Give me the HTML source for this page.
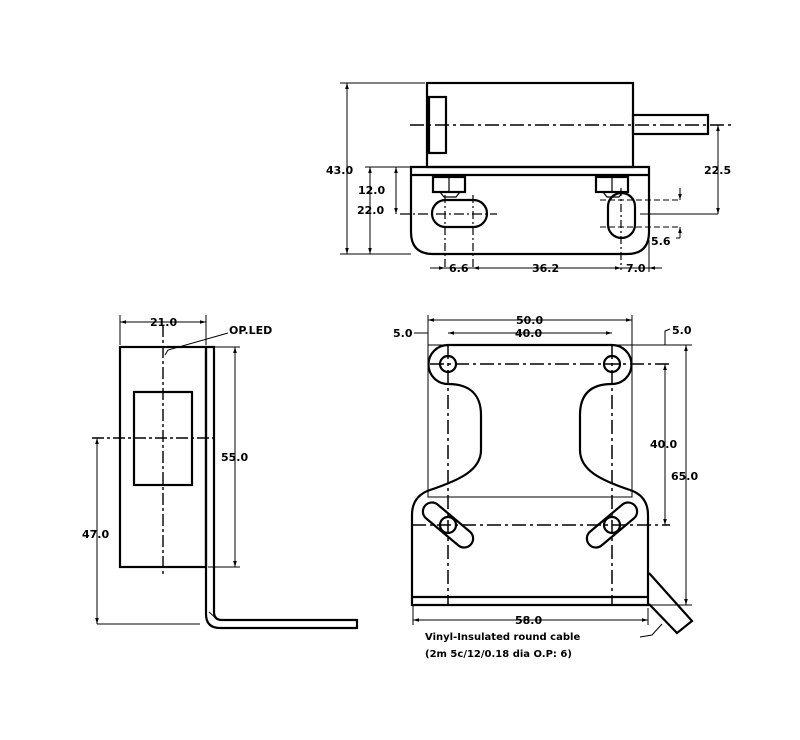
<!DOCTYPE html>
<html><head><meta charset="utf-8"><style>
html,body{margin:0;padding:0;background:#fff;}
svg{display:block;}
text{font-family:"DejaVu Sans","Liberation Sans",sans-serif;font-size:11px;fill:#000;font-weight:bold;}
</style></head><body>
<svg width="800" height="740" viewBox="0 0 800 740" xmlns="http://www.w3.org/2000/svg">
<defs>
<marker id="a" viewBox="0 0 10 10" refX="10" refY="5" markerWidth="6" markerHeight="6" orient="auto-start-reverse"><path d="M0,2 L10,5 L0,8 z" fill="#000"/></marker>
</defs>
<g fill="none" stroke="#000">
<!-- TOP VIEW -->
<g stroke-width="2.2">
<rect x="427" y="83" width="206" height="84"/>
<rect x="429" y="97" width="17" height="56"/>
<rect x="633" y="115" width="75" height="19"/>
<path d="M411,167 H649 V232 Q649,254 627,254 H433 Q411,254 411,232 Z"/>
<line x1="411" y1="175" x2="649" y2="175"/>
<rect x="433" y="177" width="32" height="15"/>
<rect x="596" y="177" width="32" height="15"/>
<rect x="432" y="200" width="55" height="27" rx="13.5"/>
<rect x="608" y="193" width="27" height="45" rx="13.5"/>
</g>
<g stroke-width="1.2">
<line x1="449" y1="177" x2="449" y2="192"/><line x1="612" y1="177" x2="612" y2="192"/>
<path d="M440,192 L444,197 H456 L460,192"/>
<path d="M603,192 L607,197 H619 L623,192"/>
</g>
<line x1="410" y1="125" x2="735" y2="125" stroke-width="1.6" stroke-dasharray="14,4,3,4"/>
<line x1="400" y1="214" x2="497" y2="214" stroke-width="1.3" stroke-dasharray="10,3,2,3"/>
<line x1="640" y1="214" x2="718" y2="214" stroke-width="1"/>
<line x1="621" y1="188" x2="621" y2="270" stroke-width="1.2" stroke-dasharray="8,3,2,3"/>
<line x1="445" y1="195" x2="445" y2="270" stroke-width="1.2" stroke-dasharray="8,3,2,3"/>
<line x1="473" y1="195" x2="473" y2="270" stroke-width="1.2" stroke-dasharray="8,3,2,3"/>
<line x1="649" y1="240" x2="649" y2="272" stroke-width="1"/>
<line x1="600" y1="200" x2="680" y2="200" stroke-width="1" stroke-dasharray="6,3"/>
<line x1="600" y1="227" x2="680" y2="227" stroke-width="1" stroke-dasharray="6,3"/>
<g stroke-width="1">
<line x1="340" y1="83" x2="425" y2="83"/>
<line x1="340" y1="254" x2="411" y2="254"/>
<line x1="365" y1="167" x2="411" y2="167"/>
<line x1="347" y1="83" x2="347" y2="254" marker-start="url(#a)" marker-end="url(#a)"/>
<line x1="370" y1="167" x2="370" y2="254" marker-start="url(#a)" marker-end="url(#a)"/>
<line x1="396" y1="167" x2="396" y2="214" marker-start="url(#a)" marker-end="url(#a)"/>
<line x1="718" y1="125" x2="718" y2="214" marker-start="url(#a)" marker-end="url(#a)"/>
<line x1="680" y1="188" x2="680" y2="200" marker-end="url(#a)"/>
<line x1="680" y1="238" x2="680" y2="227" marker-end="url(#a)"/>
<line x1="676" y1="238" x2="680" y2="238"/>
<line x1="430" y1="268" x2="445" y2="268" marker-end="url(#a)"/>
<line x1="473" y1="268" x2="621" y2="268" marker-start="url(#a)" marker-end="url(#a)"/>
<line x1="662" y1="268" x2="649" y2="268" marker-end="url(#a)"/>
<line x1="445" y1="268" x2="473" y2="268"/>
<line x1="621" y1="268" x2="649" y2="268"/>
</g>
<!-- LEFT VIEW -->
<g stroke-width="2.2">
<rect x="120" y="347" width="86" height="220"/>
<rect x="134" y="392" width="58" height="93"/>
<path d="M206,347 H214 V612 Q214,620 222,620 H357 V628 H220 Q206,628 206,614 Z"/>
</g>
<line x1="209" y1="612" x2="218" y2="620" stroke-width="1"/>
<line x1="163" y1="325" x2="163" y2="577" stroke-width="1.4" stroke-dasharray="12,3,3,3"/>
<line x1="92" y1="438" x2="218" y2="438" stroke-width="1.4" stroke-dasharray="12,3,3,3"/>
<g stroke-width="1">
<line x1="120" y1="315" x2="120" y2="345"/><line x1="206" y1="315" x2="206" y2="345"/>
<line x1="120" y1="322" x2="206" y2="322" marker-start="url(#a)" marker-end="url(#a)"/>
<line x1="214" y1="347" x2="240" y2="347"/><line x1="208" y1="567" x2="240" y2="567"/>
<line x1="235" y1="347" x2="235" y2="567" marker-start="url(#a)" marker-end="url(#a)"/>
<line x1="97" y1="438" x2="97" y2="624" marker-start="url(#a)" marker-end="url(#a)"/>
<line x1="97" y1="624" x2="200" y2="624"/>
<path d="M165,355 L168,350 L228,333"/>
</g>
<!-- BOTTOM RIGHT VIEW -->
<g stroke-width="1">
<rect x="428" y="345" width="204" height="152"/>
</g>
<g stroke-width="2.2">
<path d="M448,345 H612 A19,19 0 0 1 612,384 C590,384 580,395 580,415 V450 C580,470 600,480 630,490 Q648,496 648,515 V605 H412 V515 Q412,496 430,490 C460,480 481,470 481,450 V415 C481,395 470,384 448,384 A19,19 0 0 1 448,345 Z"/>
<line x1="412" y1="597" x2="648" y2="597"/>
<circle cx="448" cy="364" r="8"/><circle cx="612" cy="364" r="8"/>
<circle cx="448" cy="525" r="8"/><circle cx="612" cy="525" r="8"/>
<rect x="418" y="516" width="60" height="18" rx="9" transform="rotate(40 448 525)"/>
<rect x="582" y="516" width="60" height="18" rx="9" transform="rotate(-40 612 525)"/>
<path d="M649,573 L692,621 L677,633 L649,604"/>
</g>
<g stroke-width="1.5" stroke-dasharray="14,4,3,4">
<line x1="448" y1="345" x2="448" y2="605"/>
<line x1="612" y1="345" x2="612" y2="605"/>
<line x1="430" y1="364" x2="670" y2="364"/>
<line x1="412" y1="525" x2="670" y2="525"/>
</g>
<g stroke-width="1">
<line x1="428" y1="315" x2="428" y2="345"/><line x1="632" y1="315" x2="632" y2="345"/>
<line x1="428" y1="320" x2="632" y2="320" marker-start="url(#a)" marker-end="url(#a)"/>
<line x1="448" y1="333" x2="612" y2="333" marker-start="url(#a)" marker-end="url(#a)"/>
<line x1="414" y1="333" x2="428" y2="333"/>
<line x1="632" y1="345" x2="692" y2="345"/>
<path d="M665,345 V331 L670,329"/>
<line x1="665" y1="364" x2="665" y2="525" marker-start="url(#a)" marker-end="url(#a)"/>
<line x1="686" y1="345" x2="686" y2="605" marker-start="url(#a)" marker-end="url(#a)"/>
<line x1="648" y1="605" x2="692" y2="605"/>
<line x1="413" y1="606" x2="413" y2="625"/><line x1="648" y1="608" x2="648" y2="625"/>
<line x1="413" y1="620" x2="648" y2="620" marker-start="url(#a)" marker-end="url(#a)"/>
<path d="M640,637 L652,635 L662,624"/>
</g>
</g>
<g>
<text x="326" y="174">43.0</text>
<text x="358" y="194">12.0</text>
<text x="357" y="214">22.0</text>
<text x="704" y="174">22.5</text>
<text x="651" y="245">5.6</text>
<text x="449" y="272">6.6</text>
<text x="532" y="272">36.2</text>
<text x="626" y="272">7.0</text>
<text x="150" y="326">21.0</text>
<text x="229" y="334">OP.LED</text>
<text x="221" y="461">55.0</text>
<text x="82" y="538">47.0</text>
<text x="393" y="337">5.0</text>
<text x="516" y="324">50.0</text>
<text x="515" y="337">40.0</text>
<text x="672" y="334">5.0</text>
<text x="650" y="448">40.0</text>
<text x="671" y="480">65.0</text>
<text x="515" y="624">58.0</text>
<text x="425" y="640" style="font-size:10px">Vinyl-Insulated round cable</text>
<text x="425" y="657" style="font-size:10px">(2m 5c/12/0.18 dia O.P: 6)</text>
</g>
</svg>
</body></html>
